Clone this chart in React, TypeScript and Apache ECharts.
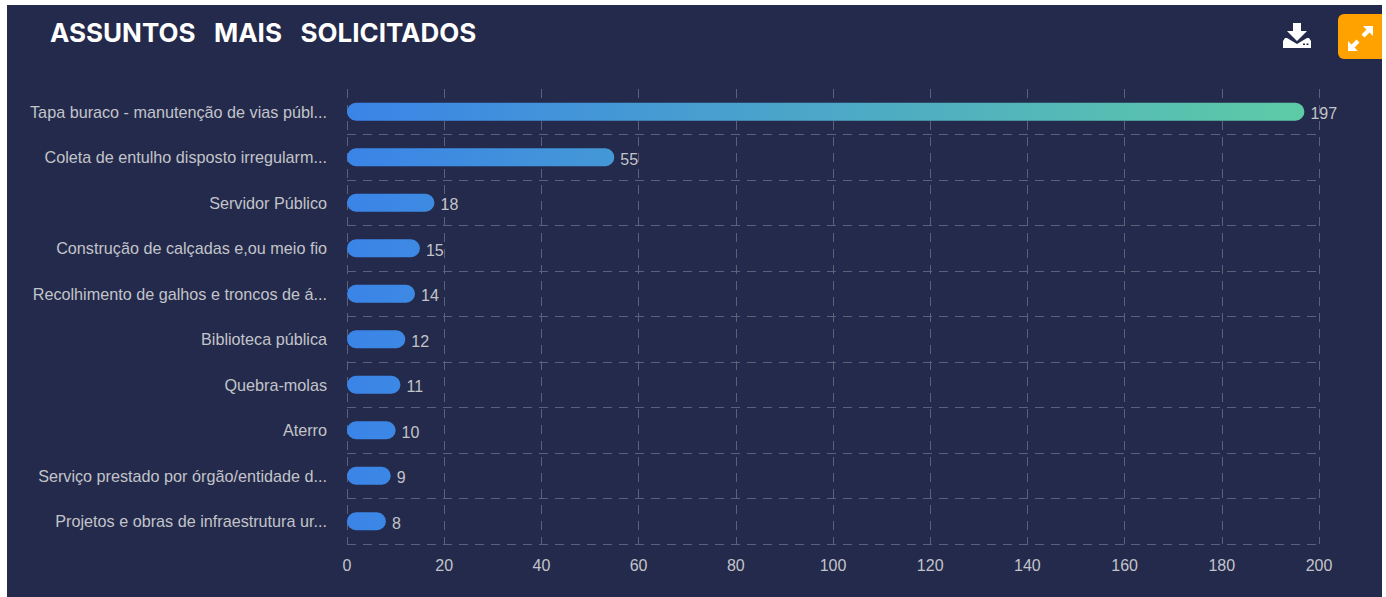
import React, { useEffect, useRef } from "react";
import * as echarts from "echarts";

const title = "ASSUNTOS   MAIS   SOLICITADOS";
const categories = [
  "Tapa buraco - manutenção de vias públ...",
  "Coleta de entulho disposto irregularm...",
  "Servidor Público",
  "Construção de calçadas e,ou meio fio",
  "Recolhimento de galhos e troncos de á...",
  "Biblioteca pública",
  "Quebra-molas",
  "Aterro",
  "Serviço prestado por órgão/entidade d...",
  "Projetos e obras de infraestrutura ur...",
];
const values = [197, 55, 18, 15, 14, 12, 11, 10, 9, 8];
const xTicks = { min: 0, max: 200, interval: 20 };

const downloadPath = "M10 0H18V8H24L14 18L4 8H10ZM4 15L14 21L24 15H26L28 18V25H0V18L2 15Z";
const expandPath = "M15 1H25V11L21.5 7.5L16.5 12.5L13.5 9.5L18.5 4.5ZM10 26H0V16L3.5 19.5L8.5 14.5L11.5 17.5L6.5 22.5Z";
echarts.graphic.registerShape("dlIcon", echarts.graphic.extendPath(downloadPath, {}) as any);
echarts.graphic.registerShape("expIcon", echarts.graphic.extendPath(expandPath, {}) as any);

export default function App() {
  const ref = useRef<HTMLDivElement>(null);
  useEffect(() => {
    const chart = echarts.init(ref.current!, undefined, { renderer: "svg" });
    const label = "#c2c4ca";
    const line = "#5c617a";
    const dash = { color: line, type: [9, 7] as number[], width: 1 };
    chart.setOption({
      animation: false,
      backgroundColor: "#ffffff",
      grid: { left: 347, right: 67, top: 89, bottom: 53, containLabel: false },
      graphic: [
        { type: "rect", z: -10, shape: { x: 7, y: 5, width: 1375, height: 592 }, style: { fill: "#242a4b" }, silent: true },
        { type: "text", x: 50, y: 19, style: { text: title, fill: "#ffffff", font: "bold 26px Inter, sans-serif" } },
        { type: "dlIcon", x: 1283, y: 23, style: { fill: "#ffffff" } },
        { type: "rect", shape: { x: 1303, y: 43.5, width: 2, height: 1.5 }, style: { fill: "#242a4b" } },
        { type: "rect", shape: { x: 1306.5, y: 43.5, width: 2, height: 1.5 }, style: { fill: "#242a4b" } },
        { type: "rect", shape: { x: 1338, y: 14, width: 44, height: 45, r: [6, 0, 0, 6] }, style: { fill: "#ffa200" } },
        { type: "expIcon", x: 1348, y: 25, style: { fill: "#ffffff" } },
      ],
      xAxis: {
        type: "value",
        ...xTicks,
        axisLine: { show: false },
        axisTick: { show: false },
        axisLabel: { color: label, fontSize: 16, fontFamily: "Liberation Sans", margin: 13 },
        splitLine: { show: true, lineStyle: dash },
      },
      yAxis: {
        type: "category",
        inverse: true,
        data: categories,
        axisLine: { show: false },
        axisTick: { show: false },
        axisLabel: { color: label, fontSize: 16.2, fontFamily: "Liberation Sans", margin: 20 },
        splitLine: { show: true, showMinLine: false, lineStyle: dash },
      },
      series: [
        {
          type: "bar",
          data: values,
          barWidth: 18,
          itemStyle: {
            borderRadius: 9,
            color: new echarts.graphic.LinearGradient(
              347, 0, 1304, 0,
              [
                { offset: 0, color: "#3a84e8" },
                { offset: 1, color: "#5ecba6" },
              ],
              true,
            ),
          },
          label: {
            show: true,
            position: "right",
            color: label,
            fontSize: 16,
            fontFamily: "Liberation Sans",
            distance: 6,
            offset: [0, 2],
          },
        },
      ],
    });
    return () => chart.dispose();
  }, []);
  return <div ref={ref} style={{ position: "fixed", left: 0, top: 0, width: 1386, height: 597 }} />;
}
